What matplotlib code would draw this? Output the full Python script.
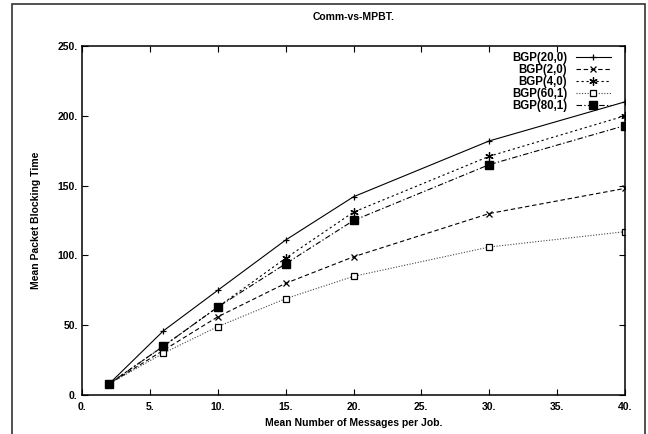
import matplotlib
matplotlib.use("Agg")
import matplotlib.pyplot as plt
from matplotlib.patches import Rectangle

x = [2, 6, 10, 15, 20, 30, 40]
bgp_20_0 = [8, 46, 75, 111, 142, 182, 210]
bgp_2_0 = [8, 32, 56, 80, 99, 130, 148]
bgp_4_0 = [8, 35, 63, 98, 131, 171, 200]
bgp_60_1 = [8, 30, 49, 69, 85, 106, 117]
bgp_80_1 = [8, 35, 63, 94, 125, 165, 193]

labels = ["BGP(20,0)", "BGP(2,0)", "BGP(4,0)", "BGP(60,1)", "BGP(80,1)"]
xticks = [0, 5, 10, 15, 20, 25, 30, 35, 40]
yticks = [0, 50, 100, 150, 200, 250]
xtick_labels = ["0.", "5.", "10.", "15.", "20.", "25.", "30.", "35.", "40."]
ytick_labels = ["0.", "50.", "100.", "150.", "200.", "250."]

plt.rcParams['font.family'] = ['Liberation Sans', 'DejaVu Sans']
plt.rcParams['font.weight'] = 'bold'

fig = plt.figure(figsize=(6.48, 4.34), dpi=100)
ax = fig.add_axes([82/648, 1-395/434, (625-82)/648, (395-46)/434])

fig.patches.append(Rectangle((12/648, -0.1), (645-12)/648, 1.1 - 4/434,
                             transform=fig.transFigure, fill=False,
                             edgecolor='#333333', linewidth=1.2))

lw = 0.8
ax.plot(x, bgp_20_0, color='black', linestyle='-', linewidth=lw, marker='+', markersize=5, markeredgewidth=0.9, label=labels[0])
ax.plot(x, bgp_2_0, color='black', linestyle=(0, (4, 2.5)), linewidth=lw, marker='x', markersize=5, markeredgewidth=0.9, label=labels[1])
ax.plot(x, bgp_4_0, color='black', linestyle=(0, (2, 2.5)), linewidth=lw, marker=(6, 2, 0), markersize=6, markeredgewidth=0.9, label=labels[2])
ax.plot(x, bgp_60_1, color='#444444', linestyle=(0, (1, 1.5)), linewidth=lw, marker='s', markersize=5, markerfacecolor='white', markeredgecolor='black', markeredgewidth=0.9, label=labels[3])
ax.plot(x, bgp_80_1, color='black', linestyle=(0, (5, 2, 1.2, 2)), linewidth=lw, marker='s', markersize=5.5, markerfacecolor='black', markeredgecolor='black', label=labels[4])

ax.set_xlim(0, 40)
ax.set_ylim(0, 250)
ax.set_xticks(xticks)
ax.set_xticklabels(xtick_labels)
ax.set_yticks(yticks)
ax.set_yticklabels(ytick_labels)
ax.tick_params(direction='in', top=True, right=True, length=4, width=0.8, labelsize=7.5)
ax.tick_params(axis='y', pad=3)
ax.tick_params(axis='x', pad=5)
for lab in ax.get_xticklabels() + ax.get_yticklabels():
    lab.set_fontweight('bold')
for s in ax.spines.values():
    s.set_linewidth(1.1)

ax.set_xlabel("Mean Number of Messages per Job.", fontsize=7.5, fontweight='bold', labelpad=4)
ax.set_ylabel("Mean Packet Blocking Time", fontsize=7.5, fontweight='bold', labelpad=12)
ax.set_title("Comm-vs-MPBT.", fontsize=7.5, fontweight='bold', pad=19)

leg = ax.legend(loc='upper right', markerfirst=False, frameon=False,
                prop={'family': 'Liberation Sans', 'weight': 'bold', 'size': 8.3},
                handlelength=3.0, handletextpad=0.75, labelspacing=0.0,
                borderaxespad=0.15, bbox_to_anchor=(0.985, 1.0))

fig.savefig("out.png", dpi=100)
